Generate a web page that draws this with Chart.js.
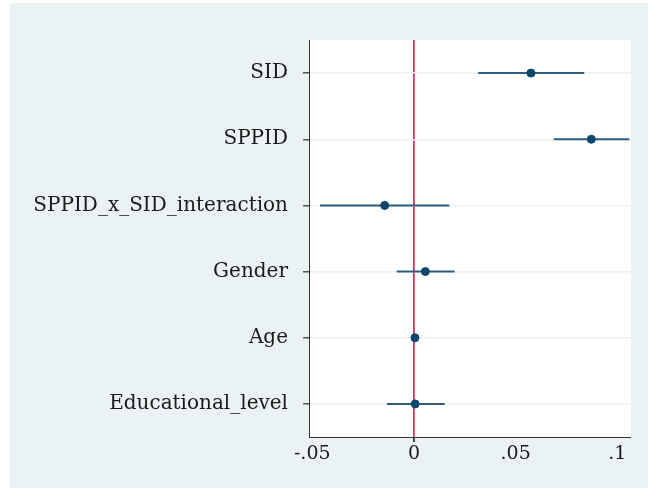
<!DOCTYPE html>
<html>
<head>
<meta charset="utf-8">
<script src="https://cdn.jsdelivr.net/npm/chart.js@4.4.1/dist/chart.umd.min.js"></script>
<style>
  html, body { margin: 0; padding: 0; background: #ffffff; }
  canvas { display: block; }
</style>
</head>
<body>
<canvas id="coefChart" width="648" height="488"></canvas>
<script>
// dados
const variables = ['SID', 'SPPID', 'SPPID_x_SID_interaction', 'Gender', 'Age', 'Educational_level'];
const coefs   = [0.0575, 0.0872, -0.0144, 0.0056, 0.0005, 0.0006];
const ciLow   = [0.0316, 0.0687, -0.0462, -0.0085, 0.0001, -0.0133];
const ciHigh  = [0.0837, 0.1059, 0.0174, 0.0200, 0.0009, 0.0151];
const xTicks  = [-0.05, 0, 0.05, 0.1];
const xTickLabels = ['-.05', '0', '.05', '.1'];

const navy = '#0f466e';
const bgGray = '#eaf2f3';
const labelFont = { family: '"DejaVu Serif", serif', size: 20 };
const tickFont = { family: '"DejaVu Serif", serif', size: 19 };

// fundo cinza (estilo Stata) + área do gráfico branca
const backgroundPlugin = {
    id: 'bg',
    beforeDraw(chart) {
        const c = chart.ctx;
        const a = chart.chartArea;
        c.save();
        c.fillStyle = '#ffffff';
        c.fillRect(0, 0, chart.width, chart.height);
        c.fillStyle = bgGray;
        c.fillRect(10, 3, chart.width - 10, chart.height - 3);
        c.fillStyle = '#ffffff';
        c.fillRect(a.left, a.top, a.right - a.left, a.bottom - a.top);
        c.restore();
    }
};

// intervalos de confiança como linhas
const ciDatasets = variables.map((v, i) => ({
    type: 'line',
    data: [{ x: ciLow[i], y: i + 1 }, { x: ciHigh[i], y: i + 1 }],
    borderColor: 'rgba(26,75,114,0.9)',
    borderWidth: 2,
    pointRadius: 0,
    showLine: true,
    order: 2
}));

const pointDataset = {
    type: 'scatter',
    data: coefs.map((c, i) => ({ x: c, y: i + 1 })),
    backgroundColor: navy,
    borderColor: navy,
    pointRadius: 4,
    order: 1
};

const ctx = document.getElementById('coefChart').getContext('2d');
new Chart(ctx, {
    type: 'scatter',
    data: { datasets: [...ciDatasets, pointDataset] },
    options: {
        responsive: false,
        devicePixelRatio: 1,
        animation: false,
        layout: { padding: { left: 0, right: 17, top: 40, bottom: 0 } },
        plugins: {
            legend: { display: false },
            tooltip: { enabled: false }
        },
        scales: {
            x: {
                type: 'linear',
                min: -0.0516,
                max: 0.1067,
                afterBuildTicks: s => { s.ticks = xTicks.map(v => ({ value: v })); },
                afterFit: s => { s.height = 51; },
                border: { display: true, color: '#333333', width: 1 },
                grid: {
                    color: c => (c.tick && c.tick.value === 0) ? '#cc3a5e' : 'rgba(0,0,0,0)',
                    lineWidth: c => (c.tick && c.tick.value === 0) ? 1.8 : 0,
                    tickColor: '#333333',
                    tickLength: 5,
                    drawTicks: true
                },
                ticks: {
                    color: '#1a1a1a',
                    font: tickFont,
                    padding: 1,
                    maxRotation: 0,
                    callback: (val) => {
                        const idx = xTicks.findIndex(t => Math.abs(t - val) < 1e-9);
                        return idx >= 0 ? xTickLabels[idx] : '';
                    }
                }
            },
            y: {
                type: 'linear',
                reverse: true,
                min: 0.5,
                max: 6.5,
                afterBuildTicks: s => { s.ticks = variables.map((v, i) => ({ value: i + 1 })); },
                afterFit: s => { s.width = 309; },
                border: { display: true, color: '#333333', width: 1 },
                grid: {
                    color: bgGray,
                    lineWidth: 1.5,
                    tickColor: '#555555',
                    tickLength: 6
                },
                ticks: {
                    color: '#1a1a1a',
                    font: labelFont,
                    padding: 15,
                    callback: (val) => variables[Math.round(val) - 1] || ''
                }
            }
        }
    },
    plugins: [backgroundPlugin]
});
</script>
</body>
</html>
